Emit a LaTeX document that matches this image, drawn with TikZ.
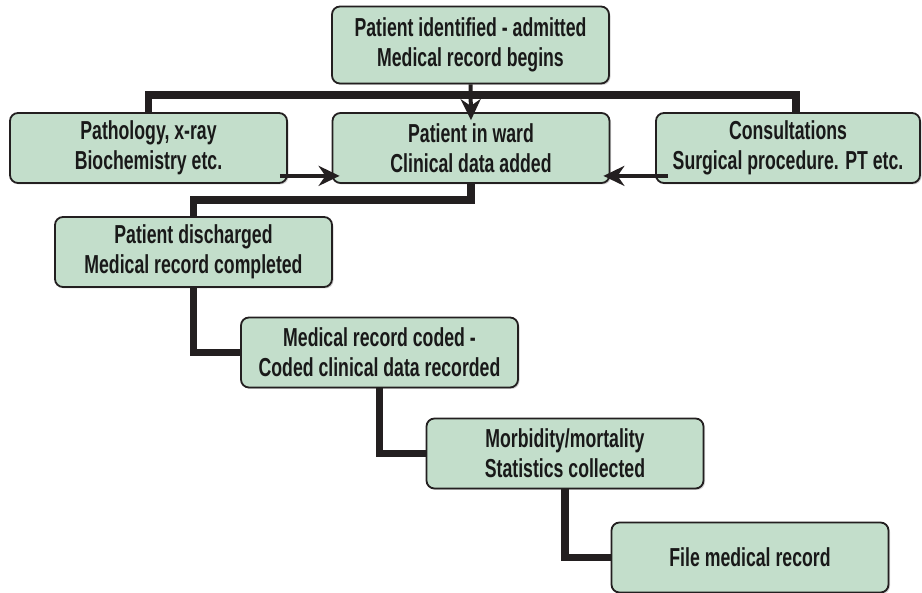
\documentclass[tikz,border=0pt]{standalone}
\usepackage{fontspec}
\setmainfont{Liberation Sans}[FakeStretch=0.68]
\usetikzlibrary{arrows.meta,shadows}
\definecolor{stagegreen}{HTML}{C3DECB}
\definecolor{linkblack}{HTML}{231F20}
\tikzset{
	stagebox/.style={draw=linkblack, line width=1.8pt, fill=stagegreen, rounded corners=8pt,
		minimum width=277pt, minimum height=70pt, align=center, text=black!90,
		font=\bfseries\fontsize{26}{30}\selectfont,
		drop shadow={shadow xshift=1.5pt, shadow yshift=-1.5pt, opacity=0.35}},
	thickbar/.style={draw=linkblack, line width=7.5pt},
	feedarrow/.style={draw=linkblack, line width=4pt, -{Stealth[length=21pt,width=20pt]}}
}

\begin{document}
\begin{tikzpicture}[x=1pt, y=-1pt]

	\useasboundingbox (0,0) rectangle (922,593);

	\node[stagebox, minimum height=77pt] (admit) at (470.5,45) {Patient identified - admitted\\Medical record begins};

	\node[stagebox] (lab) at (148.5,148) {Pathology, x-ray\\Biochemistry etc.};
	\node[stagebox] (ward) at (471,148) {Patient in ward\\Clinical data added};
	\node[stagebox, minimum width=264pt] (consult) at (788,148) {Consultations\\Surgical procedure. PT etc.};

	\node[stagebox] (discharge) at (193.5,252) {Patient discharged\\Medical record completed};
	\node[stagebox] (coded) at (379.5,352.5) {Medical record coded -\\Coded clinical data recorded};
	\node[stagebox] (stats) at (565,453.5) {Morbidity/mortality\\Statistics collected};
	\node[stagebox] (filed) at (750,557.5) {File medical record};

	\draw[thickbar] (lab.north) -- (lab.north |- 0,95) -- (796,95) coordinate (barend) -- (barend |- consult.north);
	\draw[feedarrow] (admit.south) -- ([yshift=-8pt]ward.north);

	\draw[feedarrow] ([xshift=-8pt,yshift=8pt]lab.south east) -- ([xshift=8pt,yshift=8pt]ward.south west);
	\draw[feedarrow] ([xshift=13pt,yshift=8pt]consult.south west) -- ([xshift=-7pt,yshift=8pt]ward.south east);

	\draw[thickbar] (ward.south) -- ++(0,16) -| (discharge.north);
	\draw[thickbar] (discharge.south) |- (coded.west);
	\draw[thickbar] (coded.south) |- (stats.west);
	\draw[thickbar] (stats.south) |- (filed.west);

\end{tikzpicture}
\end{document}
